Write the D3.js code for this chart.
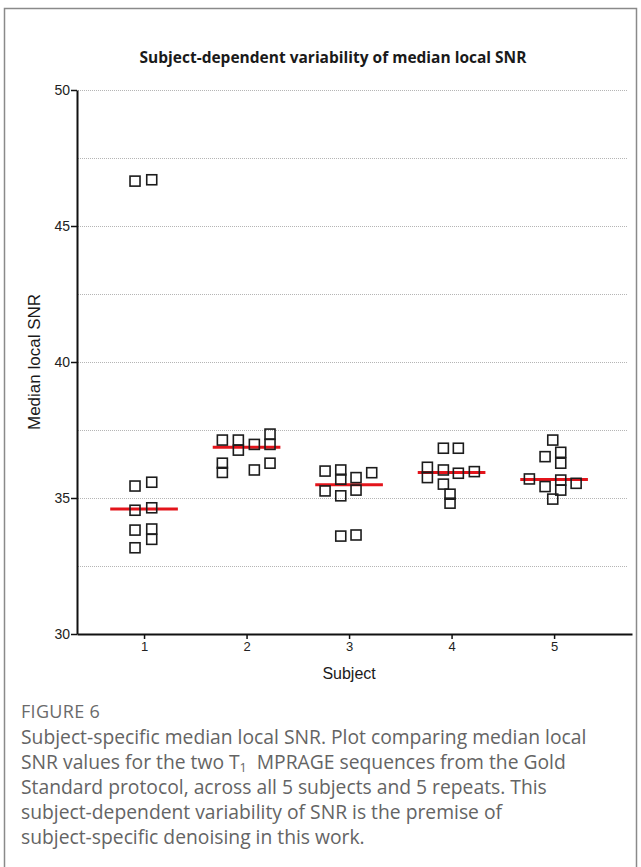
<!DOCTYPE html>
<html>
<head>
<meta charset="utf-8">
<script src="https://cdn.jsdelivr.net/npm/d3@7/dist/d3.min.js"></script>
<style>
  body { margin: 0; background: #fff; }
  .plot text { font-family: "Liberation Sans", Arial, sans-serif; }
  .os { font-family: "Open Sans", sans-serif; }
</style>
</head>
<body>
<svg id="fig" width="641" height="867"></svg>
<script>
// Subjects on the x axis
const subjects = [1, 2, 3, 4, 5];
const subjectLabels = ["1", "2", "3", "4", "5"];
const yTicks = [30, 35, 40, 45, 50];
const gridValues = [32.5, 35, 37.5, 40, 42.5, 45, 47.5, 50];

// Median local SNR per scan (2 sequences x 5 repeats) for each subject
const snr1 = [46.65, 46.70, 35.44, 35.58, 34.55, 34.64, 33.82, 33.86, 33.17, 33.48];
const snr2 = [37.13, 36.28, 35.94, 37.13, 36.76, 36.97, 36.03, 37.35, 36.97, 36.28];
const snr3 = [35.99, 35.26, 36.03, 35.69, 35.08, 33.60, 35.75, 35.29, 33.64, 35.93];
const snr4 = [36.13, 35.75, 36.83, 36.03, 35.51, 35.14, 34.81, 36.83, 35.91, 35.97];
const snr5 = [35.70, 36.52, 35.42, 37.13, 34.96, 36.68, 36.28, 35.66, 35.29, 35.54];

// Horizontal scatter of each point around its subject (in subject units)
const jit1 = [-0.088, 0.075, -0.088, 0.075, -0.088, 0.075, -0.088, 0.075, -0.088, 0.075];
const jit2 = [-0.236, -0.236, -0.236, -0.080, -0.080, 0.076, 0.076, 0.229, 0.229, 0.229];
const jit3 = [-0.234, -0.234, -0.081, -0.081, -0.081, -0.081, 0.068, 0.068, 0.068, 0.221];
const jit4 = [-0.236, -0.236, -0.080, -0.080, -0.080, -0.015, -0.015, 0.066, 0.066, 0.222];
const jit5 = [-0.241, -0.088, -0.088, -0.013, -0.013, 0.065, 0.065, 0.065, 0.065, 0.215];

const groups = [
  { subject: 1, values: snr1, jitter: jit1 },
  { subject: 2, values: snr2, jitter: jit2 },
  { subject: 3, values: snr3, jitter: jit3 },
  { subject: 4, values: snr4, jitter: jit4 },
  { subject: 5, values: snr5, jitter: jit5 }
];

const svg = d3.select("#fig");

// Outer figure frame
svg.append("path")
  .attr("d", "M4.5,867 L4.5,8.5 L636.5,8.5 L636.5,867")
  .attr("fill", "none")
  .attr("stroke", "#8a8a8a")
  .attr("stroke-width", 1.5);

const plot = svg.append("g").attr("class", "plot");

const x = d3.scaleLinear().domain([0.346, 5.76]).range([77, 632]);
const y = d3.scaleLinear().domain([30, 50]).range([634, 90]);

// Title
svg.append("text")
  .attr("class", "os")
  .attr("x", 333).attr("y", 63)
  .attr("text-anchor", "middle")
  .style("font-weight", 700)
  .style("font-size", "15.5px")
  .attr("fill", "#1a1a1a")
  .text("Subject-dependent variability of median local SNR");

// Dotted horizontal gridlines
plot.append("g").selectAll("line")
  .data(gridValues)
  .join("line")
  .attr("x1", x(0.346) + 1).attr("x2", x(5.72))
  .attr("y1", d => y(d) + 0.5).attr("y2", d => y(d) + 0.5)
  .attr("stroke", "#b5b5b5")
  .attr("stroke-width", 1)
  .attr("stroke-dasharray", "1,1");

// Y axis
const yAxis = plot.append("g")
  .attr("transform", `translate(${x(0.346)},0)`)
  .call(d3.axisLeft(y).tickValues(yTicks).tickSize(6).tickSizeOuter(0).tickFormat(d3.format("d")));
yAxis.select(".domain").attr("stroke", "#111").attr("stroke-width", 2);
yAxis.selectAll(".tick line").attr("stroke", "#111").attr("stroke-width", 1.5);
yAxis.selectAll(".tick text")
  .attr("x", -7)
  .style("font-size", "14px")
  .attr("fill", "#222");

// X axis
const xAxis = plot.append("g")
  .attr("transform", `translate(0,${y(30)})`)
  .call(d3.axisBottom(x).tickValues(subjects).tickSize(5).tickSizeOuter(0)
    .tickFormat((d, i) => subjectLabels[i]));
xAxis.select(".domain").attr("stroke", "#111").attr("stroke-width", 2);
xAxis.selectAll(".tick line").attr("stroke", "#111").attr("stroke-width", 1.5);
xAxis.selectAll(".tick text")
  .attr("y", 8)
  .style("font-size", "13px")
  .attr("fill", "#222");

// Axis titles
plot.append("text")
  .attr("x", x(3)).attr("y", 679)
  .attr("text-anchor", "middle")
  .style("font-size", "16px")
  .attr("fill", "#1a1a1a")
  .text("Subject");

plot.append("text")
  .attr("transform", `translate(40,${y(40)}) rotate(-90)`)
  .attr("text-anchor", "middle")
  .style("font-size", "17px")
  .attr("fill", "#1a1a1a")
  .text("Median local  SNR");

// Median bars
const halfBar = 0.33;
plot.append("g").selectAll("line")
  .data(groups)
  .join("line")
  .attr("x1", d => x(d.subject - halfBar))
  .attr("x2", d => x(d.subject + halfBar))
  .attr("y1", d => y(d3.median(d.values)))
  .attr("y2", d => y(d3.median(d.values)))
  .attr("stroke", "#e3141b")
  .attr("stroke-width", 3);

// Open square markers
const side = 10;
const points = groups.flatMap(g => g.values.map((v, i) => ({ sx: g.subject + g.jitter[i], v })));
plot.append("g").selectAll("rect")
  .data(points)
  .join("rect")
  .attr("x", d => x(d.sx) - side / 2)
  .attr("y", d => y(d.v) - side / 2)
  .attr("width", side).attr("height", side)
  .attr("fill", "none")
  .attr("stroke", "#1c1c1c")
  .attr("stroke-width", 1.6);

// Caption
const cap = svg.append("g").attr("fill", "#646464");

cap.append("text")
  .attr("class", "os")
  .attr("x", 21).attr("y", 718)
  .style("font-size", "18px")
  .style("letter-spacing", "0.3px")
  .attr("fill", "#6a6a6a")
  .text("FIGURE 6");

const capLines = [
  "Subject-specific median local SNR. Plot comparing median local",
  null,
  "Standard protocol, across all 5 subjects and 5 repeats. This",
  "subject-dependent variability of SNR is the premise of",
  "subject-specific denoising in this work."
];
capLines.forEach((line, i) => {
  const t = cap.append("text")
    .attr("class", "os")
    .attr("x", 21).attr("y", 744 + i * 25)
    .style("font-size", "19.3px");
  if (line !== null) {
    t.text(line);
  } else {
    t.append("tspan").text("SNR values for the two T");
    t.append("tspan").attr("dy", 3).style("font-size", "12.5px").text("1");
    t.append("tspan").attr("dy", -3).text("\u00a0 MPRAGE sequences from the Gold");
  }
});
</script>
</body>
</html>
